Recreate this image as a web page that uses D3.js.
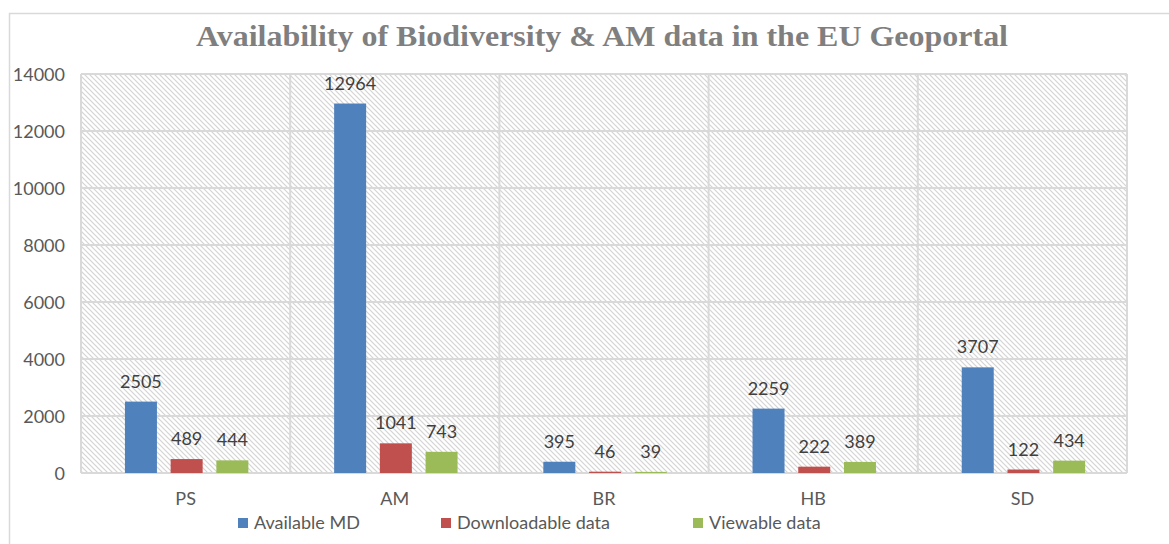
<!DOCTYPE html>
<html>
<head>
<meta charset="utf-8">
<script src="https://cdn.jsdelivr.net/npm/d3@7"></script>
<style>
  body { margin: 0; background: #fff; }
  svg text { font-family: Lato, "Open Sans", sans-serif; }
</style>
</head>
<body>
<svg id="chart"></svg>
<script>
var width = 1169,
    height = 544;

var categories = ["PS", "AM", "BR", "HB", "SD"];
var seriesNames = ["Available MD", "Downloadable data", "Viewable data"];
var availableMD = [2505, 12964, 395, 2259, 3707];
var downloadable = [489, 1041, 46, 222, 122];
var viewable = [444, 743, 39, 389, 434];
var yTicks = [0, 2000, 4000, 6000, 8000, 10000, 12000, 14000];
var colors = ["#4f81bd", "#c0504d", "#9bbb59"];

var series = [availableMD, downloadable, viewable];

var margin = {left: 81, right: 42, top: 74, bottom: 71};

var svg = d3.select("#chart").attr("width", width).attr("height", height);

// outer chart frame
svg.append("rect")
  .attr("x", 9.5).attr("y", 13.5)
  .attr("width", width + 10).attr("height", height + 10)
  .attr("fill", "#fff").attr("stroke", "#d9d9d9").attr("stroke-width", 1.5);

// hatch pattern for plot background
var defs = svg.append("defs");
var pat = defs.append("pattern")
  .attr("id", "hatch")
  .attr("patternUnits", "userSpaceOnUse")
  .attr("width", 5).attr("height", 5);
pat.append("rect").attr("width", 5).attr("height", 5).attr("fill", "#fff");
pat.append("path")
  .attr("d", "M-1,-1 L6,6 M-1,4 L1,6 M4,-1 L6,1")
  .attr("stroke", "#d4d4d4").attr("stroke-width", 1.2);

var x = d3.scaleBand()
  .domain(categories)
  .range([margin.left, width - margin.right]);

var xInner = d3.scaleBand()
  .domain(d3.range(seriesNames.length))
  .range([x.bandwidth() * 0.21, x.bandwidth() * 0.80])
  .paddingInner(0.3);

var y = d3.scaleLinear()
  .domain([0, 14000])
  .range([height - margin.bottom, margin.top]);

// plot area
svg.append("rect")
  .attr("x", margin.left).attr("y", margin.top)
  .attr("width", width - margin.left - margin.right)
  .attr("height", height - margin.top - margin.bottom)
  .attr("fill", "url(#hatch)");

// horizontal gridlines
svg.append("g")
  .selectAll("line")
  .data(yTicks)
  .enter().append("line")
  .attr("x1", margin.left).attr("x2", width - margin.right)
  .attr("y1", function(d) { return y(d); })
  .attr("y2", function(d) { return y(d); })
  .attr("stroke", "#d9d9d9").attr("stroke-width", 2);

// vertical gridlines at category boundaries
var bounds = categories.map(function(c) { return x(c); }).concat([width - margin.right]);
svg.append("g")
  .selectAll("line")
  .data(bounds)
  .enter().append("line")
  .attr("x1", function(d) { return d; }).attr("x2", function(d) { return d; })
  .attr("y1", margin.top).attr("y2", height - margin.bottom)
  .attr("stroke", "#d9d9d9").attr("stroke-width", 2);

// y axis
var yAxis = svg.append("g")
  .attr("transform", "translate(" + (margin.left - 16) + ",0)")
  .call(d3.axisLeft(y).tickValues(yTicks).tickFormat(d3.format("d")).tickSize(0).tickPadding(0));
yAxis.select(".domain").remove();
yAxis.selectAll("text")
  .attr("fill", "#595959")
  .style("font-size", "18px")
  .attr("dy", "0.35em");

// x axis labels
var xAxis = svg.append("g")
  .attr("transform", "translate(0," + (height - margin.bottom) + ")")
  .call(d3.axisBottom(x).tickSize(0).tickPadding(19));
xAxis.select(".domain").remove();
xAxis.selectAll("text")
  .attr("fill", "#595959")
  .style("font-size", "18px");

// bars
var groups = svg.append("g")
  .selectAll("g")
  .data(categories)
  .enter().append("g")
  .attr("transform", function(d) { return "translate(" + x(d) + ",0)"; });

var cells = groups.selectAll("g")
  .data(function(d, ci) {
    return series.map(function(s, si) { return {s: si, v: s[ci]}; });
  })
  .enter().append("g");

cells.append("rect")
  .attr("x", function(d) { return xInner(d.s); })
  .attr("width", xInner.bandwidth())
  .attr("y", function(d) { return y(d.v); })
  .attr("height", function(d) { return y(0) - y(d.v); })
  .attr("fill", function(d) { return colors[d.s]; });

cells.append("text")
  .attr("x", function(d) { return xInner(d.s) + xInner.bandwidth() / 2; })
  .attr("y", function(d) { return y(d.v) - 14; })
  .attr("text-anchor", "middle")
  .attr("fill", "#404040")
  .style("font-size", "18px")
  .text(function(d) { return d.v; });

// legend
var legendX = [238, 441, 693];
var legend = svg.append("g")
  .selectAll("g")
  .data(seriesNames)
  .enter().append("g")
  .attr("transform", function(d, i) { return "translate(" + legendX[i] + ",518)"; });
legend.append("rect")
  .attr("width", 10).attr("height", 10)
  .attr("fill", function(d, i) { return colors[i]; });
legend.append("text")
  .attr("x", 16).attr("y", 5).attr("dy", "0.35em")
  .attr("fill", "#595959")
  .style("font-size", "18px")
  .text(function(d) { return d; });

// title
svg.append("text")
  .attr("x", 602).attr("y", 46)
  .attr("text-anchor", "middle")
  .attr("fill", "#7f7f7f")
  .style("font-family", "'Liberation Serif', 'DejaVu Serif', serif")
  .style("font-weight", "bold")
  .style("font-size", "29px")
  .attr("textLength", 812)
  .attr("lengthAdjust", "spacingAndGlyphs")
  .text("Availability of Biodiversity & AM data in the EU Geoportal");
</script>
</body>
</html>
